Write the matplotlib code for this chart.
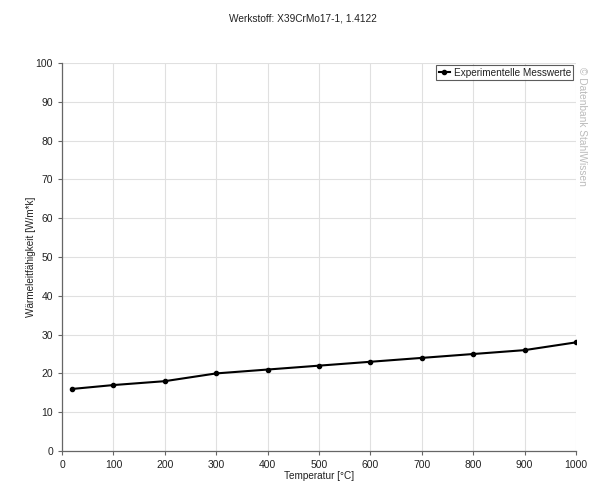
import matplotlib
matplotlib.use("Agg")
import matplotlib.pyplot as plt

temperature = [20, 100, 200, 300, 400, 500, 600, 700, 800, 900, 1000]
conductivity = [16, 17, 18, 20, 21, 22, 23, 24, 25, 26, 28]
x_ticks = [0, 100, 200, 300, 400, 500, 600, 700, 800, 900, 1000]
y_ticks = [0, 10, 20, 30, 40, 50, 60, 70, 80, 90, 100]

plt.rcParams['font.family'] = ['Liberation Sans', 'DejaVu Sans']

fig = plt.figure(figsize=(6.05, 4.94), dpi=100)
ax = fig.add_axes([0.1025, 0.087, 0.8495, 0.7855])

ax.plot(temperature, conductivity, color='black', linewidth=1.5, marker='o',
        markersize=3, label='Experimentelle Messwerte')
ax.set_xlim(0, 1000)
ax.set_ylim(0, 100)
ax.set_xticks(x_ticks)
ax.set_yticks(y_ticks)
ax.tick_params(labelsize=7.5, length=3, color='#666666', width=0.8, labelcolor='#222222')
ax.grid(True, color='#e0e0e0', linewidth=0.8)
ax.set_axisbelow(True)
for s in ['top', 'right']:
    ax.spines[s].set_visible(False)
for s in ['left', 'bottom']:
    ax.spines[s].set_color('#666666')
    ax.spines[s].set_linewidth(0.9)

ax.set_xlabel('Temperatur [°C]', fontsize=7.2, labelpad=1, color='#222222')
ax.set_ylabel('Wärmeleitfähigkeit [W/m*k]', fontsize=7.2, labelpad=0, color='#222222')
fig.text(0.5, 0.962, 'Werkstoff: X39CrMo17-1, 1.4122', ha='center', va='center',
         fontsize=7.3, color='#222222')

leg = ax.legend(loc='upper right', fontsize=7.2, frameon=True, fancybox=False,
                borderpad=0.25, handlelength=1.1, handletextpad=0.4,
                borderaxespad=0.25)
leg.get_frame().set_edgecolor('#333333')
leg.get_frame().set_linewidth(0.8)
for t in leg.get_texts():
    t.set_color('#222222')

fig.text(0.962, 0.865, '© Datenbank StahlWissen', rotation=-90, ha='center', va='top',
         fontsize=7.3, color='#bbbbbb')

fig.savefig('out.png', dpi=100)
